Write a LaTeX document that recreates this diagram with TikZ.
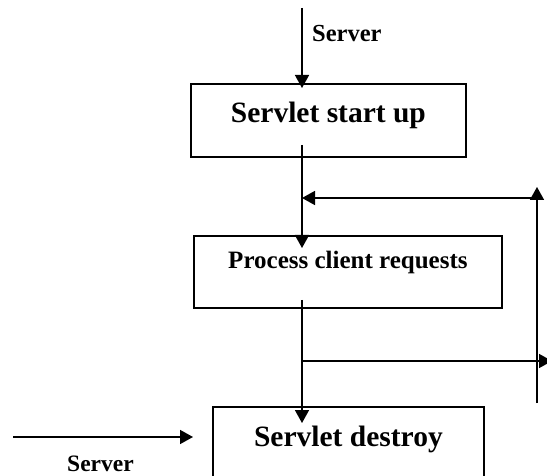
\documentclass[tikz,border=0pt]{standalone}
\usepackage{fontspec}
\setmainfont{Liberation Serif}
\usetikzlibrary{arrows.meta}
\begin{document}
\begin{tikzpicture}[x=1pt,y=-1pt,
  box/.style={draw, line width=1.8pt, inner sep=0pt, anchor=north west, font=\bfseries},
  conn/.style={line width=1.5pt, -{Triangle[length=13pt,width=14pt]}},
  lab/.style={inner sep=0pt, anchor=base west, font=\bfseries\fontsize{24.5}{28}\selectfont}]
\useasboundingbox (0,0) rectangle (547,476);
% boxes
\node[box, minimum width=275pt, text height=39pt, text depth=34pt, font=\bfseries\fontsize{29.5}{34}\selectfont] (start) at (190,83) {Servlet start up};
\node[box, minimum width=308pt, text height=33pt, text depth=39pt, font=\bfseries\fontsize{25}{30}\selectfont] (proc) at (193,235) {Process client requests};
\node[box, minimum width=271pt, text height=40pt, text depth=34pt, font=\bfseries\fontsize{29.5}{34}\selectfont] (destroy) at (212,406) {Servlet destroy};
% labels
\node[lab] (srvtop) at (312,42) {Server};
\node[lab, font=\bfseries\fontsize{23.5}{28}\selectfont] (srvbot) at (67,471) {Server};
% coordinates
\coordinate (topin) at (302,8);
\coordinate (rb) at (537,403);
\coordinate (rt) at (537,187);
\coordinate (rj) at (537,198);
\coordinate (ro) at (552,361);
\coordinate (lin) at (13,437);
\coordinate (lend) at (193,437);
% connectors
\draw[conn, shorten >=-5pt] (topin) -- (topin |- start.north);
\draw[conn, shorten >=-13pt] ([yshift=13pt]topin |- start.south) -- (topin |- proc.north);
\draw[conn, shorten >=-17pt] ([yshift=9pt]topin |- proc.south) -- (topin |- destroy.north);
\draw[conn] (rb) -- (rt);
\draw[conn] (rj) -- (rj -| topin);
\draw[conn] (ro -| topin) -- (ro);
\draw[conn] (lin) -- (lend);
\end{tikzpicture}
\end{document}
